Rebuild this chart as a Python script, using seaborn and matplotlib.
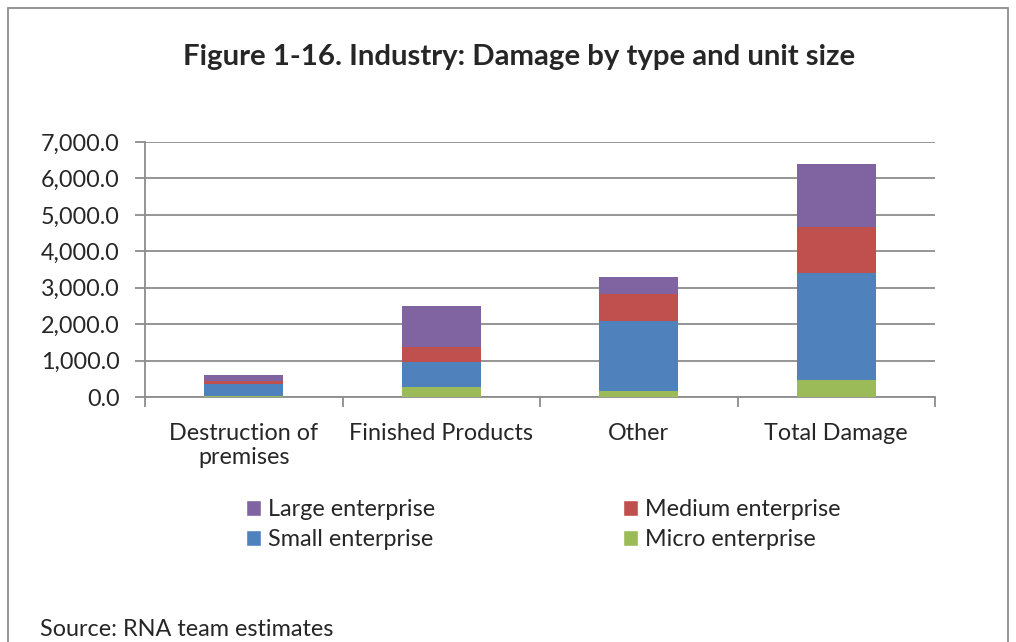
import matplotlib
matplotlib.use("Agg")
import matplotlib.pyplot as plt
import seaborn as sns
import pandas as pd
import numpy as np
from matplotlib.patches import Rectangle, Patch

categories = ["Destruction of\npremises", "Finished Products", "Other", "Total Damage"]
micro = [25, 270, 165, 465]
small = [320, 700, 1915, 2935]
medium = [100, 410, 760, 1280]
large = [150, 1120, 465, 1705]

series_names = ["Micro enterprise", "Small enterprise", "Medium enterprise", "Large enterprise"]
colors = {"Micro enterprise": "#9BBB59", "Small enterprise": "#4F81BD",
          "Medium enterprise": "#C0504D", "Large enterprise": "#8064A2"}

sns.set_theme(style="white")
plt.rcParams['font.family'] = ['Lato', 'DejaVu Sans']

FS = 16.8
fig = plt.figure(figsize=(10.16, 6.42), dpi=100)
W, H = 1016, 642
ax = fig.add_axes([145 / W, 1 - 397 / H, 790 / W, 255 / H])

vals = [micro, small, medium, large]
cum = np.cumsum(np.array(vals, dtype=float), axis=0)
for i in range(3, -1, -1):
    df = pd.DataFrame({"cat": categories, "val": cum[i]})
    sns.barplot(data=df, x="cat", y="val", order=categories, color=colors[series_names[i]],
                width=0.4, saturation=1, ax=ax, zorder=3, edgecolor="none", linewidth=0)

ax.set_ylim(0, 7000)
ax.set_xlim(-0.5, 3.5)
ax.set_yticks(np.arange(0, 7001, 1000))
ax.set_yticklabels([f"{v:,.1f}" for v in np.arange(0, 7001, 1000)], fontsize=FS)
ax.yaxis.grid(True, color="#8c8c8c", linewidth=1.3, zorder=0)
ax.set_axisbelow(True)
ax.set_xlabel("")
ax.set_ylabel("")
for s in ["top", "right"]:
    ax.spines[s].set_visible(False)
for s in ["left", "bottom"]:
    ax.spines[s].set_color("#8c8c8c")
    ax.spines[s].set_linewidth(1.3)

ax.set_xticks(range(4))
ax.set_xticklabels(categories, fontsize=FS, linespacing=1.15)
ax.tick_params(axis="x", which="major", length=0, pad=19, bottom=False)
ax.set_xticks(np.arange(-0.5, 4, 1), minor=True)
ax.tick_params(axis="x", which="minor", bottom=True, length=7, width=1.3, color="#8c8c8c",
               direction="out")
ax.tick_params(axis="y", left=True, length=7, width=1.3, color="#8c8c8c", direction="out", pad=11)

fig.text(519 / W, 1 - 57 / H, "Figure 1-16. Industry: Damage by type and unit size",
         ha="center", va="center", fontsize=21.2, fontweight="bold")

handles = [Patch(facecolor=colors["Large enterprise"], label="Large enterprise"),
           Patch(facecolor=colors["Small enterprise"], label="Small enterprise"),
           Patch(facecolor=colors["Medium enterprise"], label="Medium enterprise"),
           Patch(facecolor=colors["Micro enterprise"], label="Micro enterprise")]
fig.legend(handles=handles, ncol=2, loc="upper left", bbox_to_anchor=(246 / W, 1 - 499 / H),
           frameon=False, fontsize=FS, handlelength=0.65, handleheight=0.65,
           handletextpad=0.3, columnspacing=8.05, labelspacing=0.4, borderaxespad=0,
           borderpad=0)

fig.text(40 / W, 1 - 640 / H, "Source: RNA team estimates", ha="left", va="bottom", fontsize=FS)

fig.patches.append(Rectangle((8 / W, 1 - 660 / H), 1000 / W, 652 / H, transform=fig.transFigure,
                             fill=False, edgecolor="#8c8c8c", linewidth=1.3))

fig.savefig("out.png", dpi=100)
